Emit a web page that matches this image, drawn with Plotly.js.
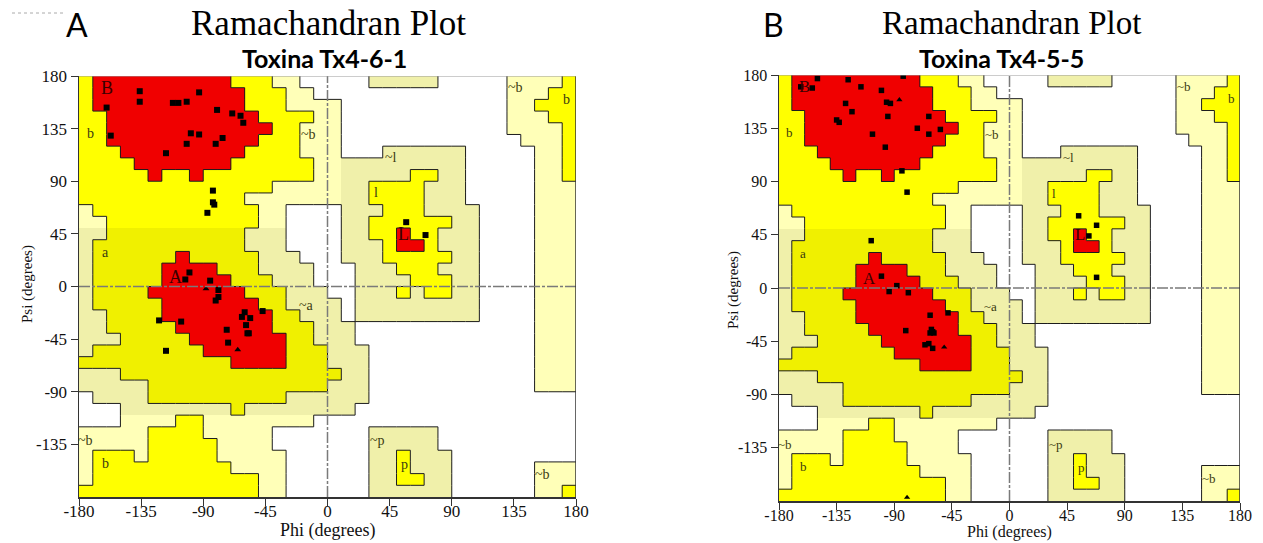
<!DOCTYPE html>
<html><head><meta charset="utf-8">
<script src="https://cdn.plot.ly/plotly-3.0.1.min.js"></script>
<style>html,body{margin:0;padding:0;background:#fff;} #chart{width:1263px;height:543px;}</style>
</head><body><div id="chart"></div>
<script>
// Region map (PROCHECK style), rows from psi 180 (top) to -180 (bottom), columns phi -180..180, 10 deg cells
// '.' disallowed, 'p' generous (pale), 'k' generous (khaki), 'Y' allowed, 'D' allowed (darker), 'R' core
const regionRows = [
  "YRRRRRRRRRRYYYpp.....kkkkk.....ppppY",
  "YRRRRRRRRRRRYYYpp..............pppYY",
  "YRRRRRRRRRRRYYYpppp............ppYYY",
  "YYRRRRRRRRRRRYYYYpp............pppYY",
  "YYRRRRRRRRRRRRYYppp............ppppY",
  "YYRRRRRRRRRRRYYYppp.............pppY",
  "YYYRRRRRRRRRYYYYppp...kkkkkk.....ppY",
  "YYYYRRRRRRRYYYYYYppkkkkkkkkk.....ppY",
  "YYYYYRYYRYYYYYYYYppkkkkkYYkk.....ppY",
  "YYYYYYYYYYYYYYpppppkkYYYYkkk.....ppp",
  "YYYYYYYYYYYYpppppppkkYYYYkkk.....ppp",
  "pYYYYYYYYYYYYpp....kkkYYYkkkk....ppp",
  "ppYYYYYYYYYYYpp....kkYYYYYYkk....ppp",
  "kkDDDDDDDDDDkkk....kkYYRYYkkk....ppp",
  "kDDDDDDDDDDDkkk....kkkYRRYkkk....ppp",
  "kDDDDDDRDDDDDkkk...kkkYYYYYkk....ppp",
  "kDDDDDRRRRDDDkkkk...kkkYYYkkk....ppp",
  "kDDDDDRRRRRDDDkkk...kkkkYYYkk....ppp",
  "kDDDDRRRRRRRDDDkkk..kkkYkYYkk....ppp",
  "kDDDDDRRRRRRRDDkkkk.kkkkkkkkk....ppp",
  "kkDDDDRRRRRRRRDDkkk.kkkkkkkkk....ppp",
  "kkDDDDDRRRRRRRDDDkkk.............ppp",
  "kkkDDDDDRRRRRRRDDkkk.............ppp",
  "kDDDDDDDDRRRRRRDDDkkk............ppp",
  "DDDDDDDDDDDRRRRDDDkkk............ppp",
  "kkkDDDDDDDDDDDDDDDDkk............ppp",
  "kkkkkDDDDDDDDDDDDDkkk............ppp",
  ".kkkkDDDDDDDDDDkkkkkk...............",
  "...kkkkkkkkDkkkkkkkk................",
  "...ppppYYpppppppp...................",
  "pppppYYYYppppp.......kkkkk..........",
  "pppppYYYYYpppp.......kkkkk..........",
  "pYYYpYYYYYppppp......kkYkkk.........",
  "pYYYYYYYYYYpppp......kkYkkk......ppp",
  "pYYYYYYYYYYYYpp......kkYYkk......ppp",
  "YYYYYYYYYYYYYpp......kkkkkk......ppY"
];

const regionColors = ['#FFFFFF','#FFFFB8','#F0F0AA','#FFFF00','#F0F000','#F00000'];
const colorIndex = {'.':0,'p':1,'k':2,'Y':3,'D':4,'R':5};
const levelOf = {'.':0,'p':1,'k':1,'Y':2,'D':2,'R':3};

const axisTicksX = [-180,-135,-90,-45,0,45,90,135,180];
const axisTicksY = [-135,-90,-45,0,45,90,135,180];

// Panel A residues (Toxina Tx4-6-1)
const aSqPhi = [-160,-136,-136,-93,-112,-108,-102,-80,-69,-63,-61,-157,-99,-93,-76,-102,-81,-117,-83,-83,-82,-87,-100,-103,-85,
                -79,-79,-81,-60,-47,-62,-56,-122,-106,-59,-73,-58,-57,-72,-117,57,71];
const aSqPsi = [153,167,158,166,157,157,158,151,148,146,140,129,131,130,127,122,122,114,82,72,70,63,12,6,5,
                -3,-9,-12,-22,-21,-26,-27,-29,-30,-33,-37,-40,-40,-48,-55,55,44];
const aTriPhi = [-88,-65];
const aTriPsi = [-2,-54];

// Panel B residues (Toxina Tx4-5-5)
const bSqPhi = [-163,-154,-150,-126,-116,-100,-83,-128,-96,-93,-123,-135,-133,-95,-63,-72,-54,-63,-107,-97,-84,-80,-108,-100,-88,
                -94,-79,-62,-48,-81,-61,-60,-62,-59,-66,-63,-60,54,68,62,68];
const bSqPsi = [170,169,177,176,170,167,179,156,157,156,149,142,140,145,145,135,134,130,130,119,99,81,40,10,2,
                -3,-4,-23,-21,-36,-35,-37,-38,-38,-48,-47,-51,61,53,44,9];
const bTriPhi = [-86,-51,-80];
const bTriPsi = [159,-50,-177];

// Region labels
const labelText = ['B','b','~b','a','A','~a','~l','l','L','~b','b','~b','b','~p','p','~b'];
const labelPhi  = [-160,-172,-14,-161,-110,-15,46,35,55,136,173,-175,-161,36,56,156];
const labelPsi  = [170,131,130,29,8,-16,110,80,45,170,160,-132,-151,-132,-152,-161];

const W = 1263, H = 543;
const fx = v => v / W, fy = v => 1 - v / H;

const nR = regionRows.length, nC = regionRows[0].length;
const cellX = [], cellY = [];
for (let c = 0; c < nC; c++) cellX.push(-180 + 5 + 10 * c);
for (let r = 0; r < nR; r++) cellY.push(180 - 5 - 10 * r);
const zGrid = regionRows.map(row => row.split('').map(ch => colorIndex[ch]));
const lev = regionRows.map(row => row.split('').map(ch => levelOf[ch]));

const segX = [], segY = [];
for (let r = 0; r < nR; r++) {
  for (let c = 0; c < nC; c++) {
    const x0 = -180 + 10 * c, y0 = 180 - 10 * r;
    if (c < nC - 1 && lev[r][c] !== lev[r][c + 1]) { segX.push(x0 + 10, x0 + 10, null); segY.push(y0, y0 - 10, null); }
    if (r < nR - 1 && lev[r][c] !== lev[r + 1][c]) { segX.push(x0, x0 + 10, null); segY.push(y0 - 10, y0 - 10, null); }
  }
}

const colorscale = [];
regionColors.forEach((col, i) => { colorscale.push([i / 6, col]); colorscale.push([(i + 1) / 6, col]); });

const panels = [
  {xa: 'x', ya: 'y', sqPhi: aSqPhi, sqPsi: aSqPsi, triPhi: aTriPhi, triPsi: aTriPsi, ms: 6, dom: [79, 576, 76, 497],
   fs: 17, lfs: 1, so: -9, phiY: 530, phiS: 18, psiX: 27, psiY: 284, psiS: 15},
  {xa: 'x2', ya: 'y2', sqPhi: bSqPhi, sqPsi: bSqPsi, triPhi: bTriPhi, triPsi: bTriPsi, ms: 5.5, dom: [779, 1240, 75, 501],
   fs: 16, lfs: 0.93, so: -8, phiY: 532, phiS: 16, psiX: 733, psiY: 290, psiS: 15}
];

const data = [];
const shapes = [];
const annotations = [];
const layout = {
  width: W, height: H, margin: {l: 0, r: 0, t: 0, b: 0},
  paper_bgcolor: '#fff', plot_bgcolor: '#fff', showlegend: false,
  shapes: shapes, annotations: annotations
};

panels.forEach((p, i) => {
  data.push({type: 'heatmap', x: cellX, y: cellY, z: zGrid, xaxis: p.xa, yaxis: p.ya,
    colorscale: colorscale, zmin: -0.5, zmax: 5.5, showscale: false, hoverinfo: 'skip', zsmooth: false});
  data.push({type: 'scatter', mode: 'lines', x: segX, y: segY, xaxis: p.xa, yaxis: p.ya,
    line: {color: '#1c1c1c', width: 1}, hoverinfo: 'skip', connectgaps: false});
  data.push({type: 'scatter', mode: 'markers', x: p.sqPhi, y: p.sqPsi, xaxis: p.xa, yaxis: p.ya,
    marker: {symbol: 'square', size: p.ms, color: '#000'}, hoverinfo: 'skip'});
  data.push({type: 'scatter', mode: 'markers', x: p.triPhi, y: p.triPsi, xaxis: p.xa, yaxis: p.ya,
    marker: {symbol: 'triangle-up', size: p.ms, color: '#000'}, hoverinfo: 'skip'});

  const sfx = i === 0 ? '' : '2';
  const tickfont = {family: 'Liberation Serif, Times New Roman, serif', size: p.fs, color: '#111'};
  layout['xaxis' + sfx] = {domain: [fx(p.dom[0]), fx(p.dom[1])], range: [-180, 180], anchor: 'y' + sfx,
    tickvals: axisTicksX, ticktext: axisTicksX.map(String), ticks: 'outside', ticklen: 7, tickcolor: '#333',
    ticklabelstandoff: p.so,
    showline: true, linecolor: '#333', linewidth: 1.5, showgrid: false, zeroline: false, tickfont: tickfont, fixedrange: true};
  layout['yaxis' + sfx] = {domain: [fy(p.dom[3]), fy(p.dom[2])], range: [-180, 180], anchor: 'x' + sfx,
    tickvals: axisTicksY, ticktext: axisTicksY.map(String), ticks: 'outside', ticklen: 7, tickcolor: '#333',
    showline: true, linecolor: '#333', linewidth: 1.5, showgrid: false, zeroline: false, tickfont: tickfont, fixedrange: true};

  // zero lines (dash-dot) and borders
  shapes.push({type: 'line', xref: p.xa, yref: p.ya, x0: -180, x1: 180, y0: 0, y1: 0, layer: 'above',
    line: {color: '#7a7a7a', width: 1.5, dash: '11px,2px,3px,2px'}});
  shapes.push({type: 'line', xref: p.xa, yref: p.ya, x0: 0, x1: 0, y0: -180, y1: 180, layer: 'above',
    line: {color: '#7a7a7a', width: 1.5, dash: '11px,2px,3px,2px'}});
  shapes.push({type: 'line', xref: p.xa, yref: p.ya, x0: 180, x1: 180, y0: -180, y1: 180, layer: 'above',
    line: {color: '#333', width: 1.5}});
  shapes.push({type: 'line', xref: p.xa, yref: p.ya, x0: -180, x1: 180, y0: 180, y1: 180, layer: 'above',
    line: {color: '#9a9a9a', width: 1}});

  labelText.forEach((t, k) => {
    const cap = /^[A-Z]$/.test(t);
    annotations.push({xref: p.xa, yref: p.ya, x: labelPhi[k], y: labelPsi[k], text: t, showarrow: false,
      font: {family: 'Liberation Serif, serif', size: (cap ? 18 : 14) * p.lfs, color: cap ? '#3a0000' : '#3a3a10'}});
  });

  // axis titles
  const cx = (p.dom[0] + p.dom[1]) / 2;
  annotations.push({xref: 'paper', yref: 'paper', x: fx(cx), y: fy(p.phiY), text: 'Phi (degrees)',
    showarrow: false, xanchor: 'center', yanchor: 'middle',
    font: {family: 'Liberation Serif, serif', size: p.phiS, color: '#111'}});
  annotations.push({xref: 'paper', yref: 'paper', x: fx(p.psiX), y: fy(p.psiY), text: 'Psi (degrees)',
    showarrow: false, textangle: -90, xanchor: 'center', yanchor: 'middle',
    font: {family: 'Liberation Serif, serif', size: p.psiS, color: '#111'}});
});

// Titles
const titleSpecs = [
  {t: 'A', x: 77, y: 25, f: 'Lato, sans-serif', s: 32},
  {t: 'Ramachandran Plot', x: 328, y: 23, f: 'Liberation Serif, serif', s: 35},
  {t: '<b>Toxina Tx4-6-1</b>', x: 324, y: 58, f: 'Lato, sans-serif', s: 25},
  {t: 'B', x: 773, y: 25, f: 'Lato, sans-serif', s: 32},
  {t: 'Ramachandran Plot', x: 1011, y: 23, f: 'Liberation Serif, serif', s: 33},
  {t: '<b>Toxina Tx4-5-5</b>', x: 1001, y: 58, f: 'Lato, sans-serif', s: 25}
];
titleSpecs.forEach(s => annotations.push({xref: 'paper', yref: 'paper', x: fx(s.x), y: fy(s.y), text: s.t,
  showarrow: false, xanchor: 'center', yanchor: 'middle', font: {family: s.f, size: s.s, color: '#000'}}));

shapes.push({type: 'line', xref: 'paper', yref: 'paper', x0: fx(12), x1: fx(65), y0: fy(13), y1: fy(13),
  line: {color: '#aaa', width: 1, dash: 'dot'}});

Plotly.newPlot('chart', data, layout, {staticPlot: true, displayModeBar: false});
</script>
</body></html>
